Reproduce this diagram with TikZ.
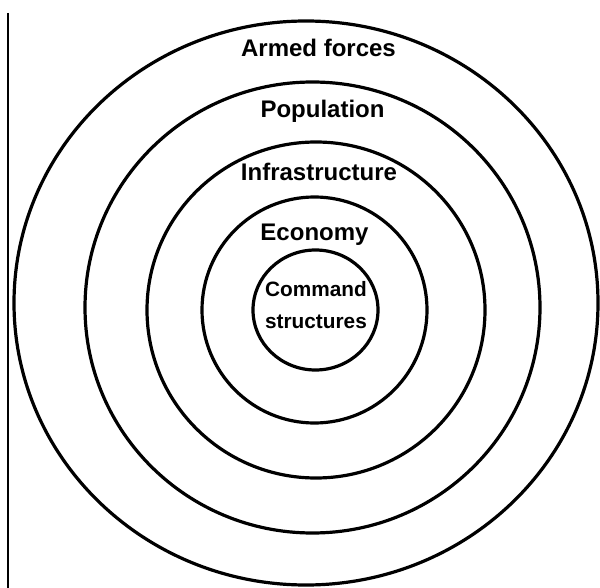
\documentclass[tikz,border=0pt]{standalone}
\usepackage{fontspec}
\setmainfont{Liberation Sans}
\begin{document}
\begin{tikzpicture}[x=1pt,y=-1pt,
  ring/.style={line width=3.2pt},
  lbl/.style={anchor=base,inner sep=0pt,font=\bfseries\fontsize{24}{28}\selectfont},
  slbl/.style={anchor=base,inner sep=0pt,font=\bfseries\fontsize{20.8}{24}\selectfont}]
\useasboundingbox (0,0) rectangle (600,588);
\fill[white] (0,0) rectangle (600,588);
\coordinate (ltop) at (8,13);
\coordinate (lbot) at (8,588);
\draw[line width=2.2pt] (ltop) -- (lbot);
\draw[ring] (306,303) ellipse [x radius=292, y radius=282];
\draw[ring] (312.5,307.5) ellipse [x radius=227.5, y radius=225.5];
\draw[ring] (316,310) ellipse [x radius=169, y radius=168];
\draw[ring] (314.5,310) ellipse [x radius=112.5, y radius=113];
\draw[ring] (315.5,310) ellipse [x radius=62.5, y radius=60];
\node[lbl] (armed) at (318.5,57) {Armed forces};
\node[lbl] (pop) at (322.5,118) {Population};
\node[lbl] (infra) at (319,181) {Infrastructure};
\node[lbl] (econ) at (314.5,241) {Economy};
\node[slbl] (cmd) at (316,297) {Command};
\node[slbl] (struct) at (316,328) {structures};
\end{tikzpicture}
\end{document}
